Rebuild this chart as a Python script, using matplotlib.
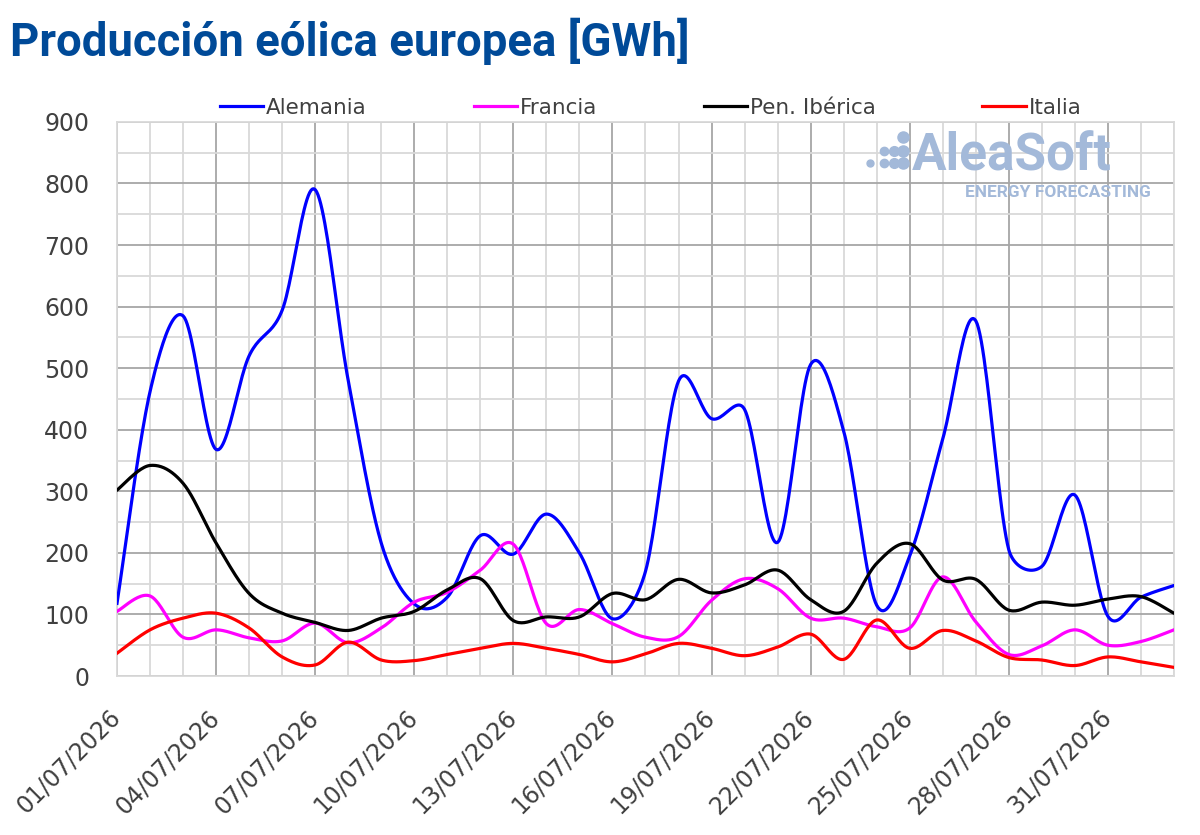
import numpy as np
import pandas as pd
import matplotlib
matplotlib.use("Agg")
import matplotlib.pyplot as plt
import matplotlib.dates as mdates
import matplotlib.transforms as mtransforms
from matplotlib.ticker import MultipleLocator, FixedLocator

# daily values, 01/07/2026 .. 02/08/2026 (GWh)
fechas = pd.date_range("2026-07-01", "2026-08-02", freq="D")

alemania = [118, 462, 585, 368, 520, 594, 790, 480, 216, 117, 128, 228, 198, 263, 200,
            93, 170, 479, 418, 433, 217, 506, 398, 115, 195, 385, 577, 205, 178, 294,
            97, 128, 147]
francia = [105, 130, 63, 75, 62, 57, 86, 54, 78, 120, 136, 172, 214, 85, 108,
           85, 63, 64, 123, 158, 142, 94, 94, 80, 78, 161, 88, 35, 49, 75,
           50, 56, 75]
iberica = [302, 342, 313, 216, 134, 102, 87, 74, 94, 105, 140, 158, 90, 96, 96,
           134, 124, 157, 135, 148, 172, 124, 105, 183, 215, 156, 157, 107, 120, 115,
           125, 129, 102]
italia = [37, 75, 94, 102, 78, 31, 18, 55, 26, 25, 35, 45, 53, 45, 35,
          23, 36, 53, 45, 33, 47, 68, 27, 91, 45, 74, 57, 30, 26, 17,
          31, 23, 14]

series = [("Alemania", alemania, "#0000ff"),
          ("Francia", francia, "#ff00ff"),
          ("Pen. Ibérica", iberica, "#000000"),
          ("Italia", italia, "#ff0000")]

SX, SY = 33.0, 0.6156   # screen pixels per day / per GWh, for the smoothing


def suavizar(x, y, n=24):
    # excel style smoothed line: bezier through the points, tangents limited
    x = np.asarray(x, float)
    y = np.asarray(y, float)
    P = np.column_stack([(x - x[0]) * SX, y * SY])
    P = np.vstack([P[0], P, P[-1]])
    t = np.linspace(0, 1, n, endpoint=False)[:, None]
    out = []
    for i in range(1, len(P) - 2):
        p0, p1, p2, p3 = P[i - 1], P[i], P[i + 1], P[i + 2]
        d12 = np.hypot(*(p2 - p1))
        d02 = np.hypot(*(p2 - p0))
        d13 = np.hypot(*(p3 - p1))
        f1 = 1 / 6 if d02 / 6 < d12 / 2 else d12 / (2 * d02)
        f2 = 1 / 6 if d13 / 6 < d12 / 2 else d12 / (2 * d13)
        c1 = p1 + (p2 - p0) * f1
        c2 = p2 - (p3 - p1) * f2
        out.append((1 - t) ** 3 * p1 + 3 * (1 - t) ** 2 * t * c1
                   + 3 * (1 - t) * t ** 2 * c2 + t ** 3 * p2)
    out.append(P[-1][None, :])
    out = np.vstack(out)
    return out[:, 0] / SX + x[0], out[:, 1] / SY


plt.rcParams['font.family'] = ['DejaVu Sans']

fig = plt.figure(figsize=(12, 8.35), dpi=100)
ax = fig.add_axes([0.0975, 0.1904, 0.8808, 0.6636])

xnum = mdates.date2num(fechas)
for nombre, valores, color in series:
    sx, sy = suavizar(xnum, valores)
    ax.plot(sx, sy, color=color, lw=2.3, label=nombre, zorder=3)

ax.set_xlim(xnum[0], xnum[-1])
ax.set_ylim(0, 900)

ax.yaxis.set_major_locator(MultipleLocator(100))
ax.yaxis.set_minor_locator(MultipleLocator(50))
ax.xaxis.set_major_locator(FixedLocator(xnum[::3]))
ax.xaxis.set_minor_locator(FixedLocator(xnum))
ax.xaxis.set_major_formatter(mdates.DateFormatter("%d/%m/%Y"))

ax.grid(which="major", color="#a6a6a6", lw=1.3, zorder=1)
ax.grid(which="minor", color="#d9d9d9", lw=1.3, zorder=0)
ax.tick_params(which="both", length=0)
ax.tick_params(axis="y", labelsize=17, labelcolor="#404040", pad=20)
ax.tick_params(axis="x", labelsize=17, labelcolor="#404040", pad=21)
desplazar = mtransforms.ScaledTranslation(-9 / 100, 0, fig.dpi_scale_trans)
for lab in ax.get_xticklabels():
    lab.set_rotation(45)
    lab.set_horizontalalignment("right")
    lab.set_verticalalignment("top")
    lab.set_rotation_mode("anchor")
    lab.set_transform(lab.get_transform() + desplazar)
for s in ax.spines.values():
    s.set_color("#d9d9d9")
    s.set_linewidth(1.3)

ax.legend(loc="lower center", bbox_to_anchor=(0.505, 0.988), ncol=4, frameon=False,
          fontsize=15.5, handlelength=2.0, handletextpad=0.15, columnspacing=4.95,
          labelcolor="#404040", borderaxespad=0.1)

# watermark
logo = "#a3b9d9"
ax.text(0.752, 0.937, "AleaSoft", transform=ax.transAxes, fontsize=37, fontweight="bold",
        color=logo, ha="left", va="center", zorder=2, family=["Roboto", "DejaVu Sans"])
ax.text(0.978, 0.873, "ENERGY FORECASTING", transform=ax.transAxes, fontsize=12.5,
        fontweight="bold", color=logo, ha="right", va="center", zorder=2,
        family=["Roboto", "DejaVu Sans"])
for px_, py_, ms in [(870, 163, 5), (884, 151, 6), (884, 163, 6), (894, 151, 7),
                     (894, 163, 7), (903, 137, 8), (903, 151, 8), (903, 163, 8)]:
    fig.add_artist(plt.Line2D([px_ / 1200], [1 - py_ / 835], marker="o", ms=ms,
                              color=logo, ls="", zorder=2))

fig.text(0.008, 0.951, "Producción eólica europea [GWh]", fontsize=32.8, fontweight="bold",
         color="#004a98", ha="left", va="center", family=["Roboto", "DejaVu Sans"])

fig.savefig("out.png", dpi=100, facecolor="white")
